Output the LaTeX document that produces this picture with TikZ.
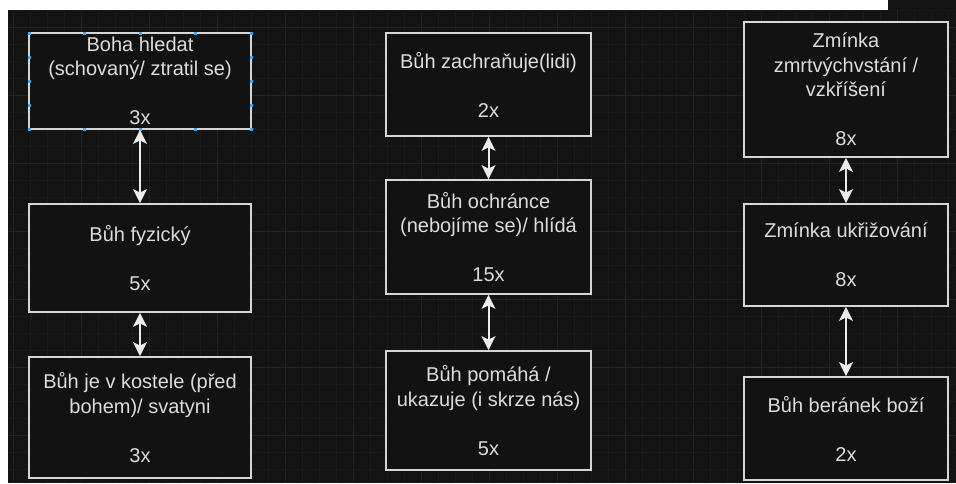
\documentclass[tikz,border=0pt]{standalone}
\usepackage{fontspec}
\setmainfont{Liberation Sans}
\usetikzlibrary{arrows.meta}
\definecolor{bg}{HTML}{131313}
\definecolor{boxfill}{HTML}{121212}
\definecolor{boxline}{HTML}{D6D6D6}
\definecolor{txt}{HTML}{DCDCDC}
\definecolor{gridminor}{HTML}{1A1A1A}
\definecolor{gridmajor}{HTML}{222222}
\definecolor{handle}{HTML}{3FA9F5}
\tikzset{
  box/.style={draw=boxline, fill=boxfill, line width=1.8pt, inner sep=0pt,
    text=txt, align=center, font=\fontsize{20}{24.5}\selectfont},
  conn/.style={draw=white!92!black, line width=2pt,
    {Stealth[length=14pt 0,width=14pt 0,inset=3.5pt 0]}-{Stealth[length=14pt 0,width=14pt 0,inset=3.5pt 0]}},
  hnd/.style={fill=handle}
}
\begin{document}
\begin{tikzpicture}[x=1pt,y=-1pt]
\useasboundingbox (0,0) rectangle (956,483);
\fill[white] (0,0) rectangle (956,483);
\fill[bg] (8,10) rectangle (956,483);
\fill[bg] (888,0) rectangle (956,10);
\begin{scope}
\clip (8,10) rectangle (956,483);
\foreach \x in {13,30,...,956} \draw[gridminor, line width=0.8pt] (\x,0) -- (\x,483);
\foreach \y in {10,27,...,483} \draw[gridminor, line width=0.8pt] (0,\y) -- (956,\y);
\foreach \x in {13,81,...,956} \draw[gridmajor, line width=0.8pt] (\x,0) -- (\x,483);
\foreach \y in {27,95,...,483} \draw[gridmajor, line width=0.8pt] (0,\y) -- (956,\y);
\end{scope}

% left column
\node[box, minimum width=222pt, minimum height=96pt] (L1) at (140,81)
  {Boha hledat\\(schovaný/ ztratil se)\\ \strut\\3x};
\node[box, minimum width=222pt, minimum height=108pt] (L2) at (140,258)
  {Bůh fyzický\\ \strut\\5x};
\node[box, minimum width=222pt, minimum height=121pt] (L3) at (140,417.5)
  {Bůh je v kostele (před\\bohem)/ svatyni\\ \strut\\3x};

% middle column
\node[box, minimum width=205pt, minimum height=103pt] (M1) at (488.5,84.5)
  {Bůh zachraňuje(lidi)\\ \strut\\2x};
\node[box, minimum width=205pt, minimum height=114pt] (M2) at (488.5,237)
  {Bůh ochránce\\(nebojíme se)/ hlídá\\ \strut\\15x};
\node[box, minimum width=205pt, minimum height=119pt] (M3) at (488.5,410.5)
  {Bůh pomáhá /\\ukazuje (i skrze nás)\\ \strut\\5x};

% right column
\node[box, minimum width=204pt, minimum height=135pt] (R1) at (846,89.5)
  {Zmínka\\zmrtvýchvstání /\\vzkříšení\\ \strut\\8x};
\node[box, minimum width=204pt, minimum height=102pt] (R2) at (846,255)
  {Zmínka ukřižování\\ \strut\\8x};
\node[box, minimum width=204pt, minimum height=103pt] (R3) at (846,428.5)
  {Bůh beránek boží\\ \strut\\2x};

% selection handles on L1
\foreach \x in {29,84.5,140,195.5,251} {
  \fill[hnd] (\x-1.5,31.5) rectangle (\x+1.5,34.5);
  \fill[hnd] (\x-1.5,127.5) rectangle (\x+1.5,130.5);
}
\foreach \y in {57,81,105} {
  \fill[hnd] (27.5,\y-1.5) rectangle (30.5,\y+1.5);
  \fill[hnd] (249.5,\y-1.5) rectangle (252.5,\y+1.5);
}

% connectors
\draw[conn] (L1) -- (L2);
\draw[conn] (L2) -- (L3);
\draw[conn] (M1) -- (M2);
\draw[conn] (M2) -- (M3);
\draw[conn] (R1) -- (R2);
\draw[conn] (R2) -- (R3);
\end{tikzpicture}
\end{document}
